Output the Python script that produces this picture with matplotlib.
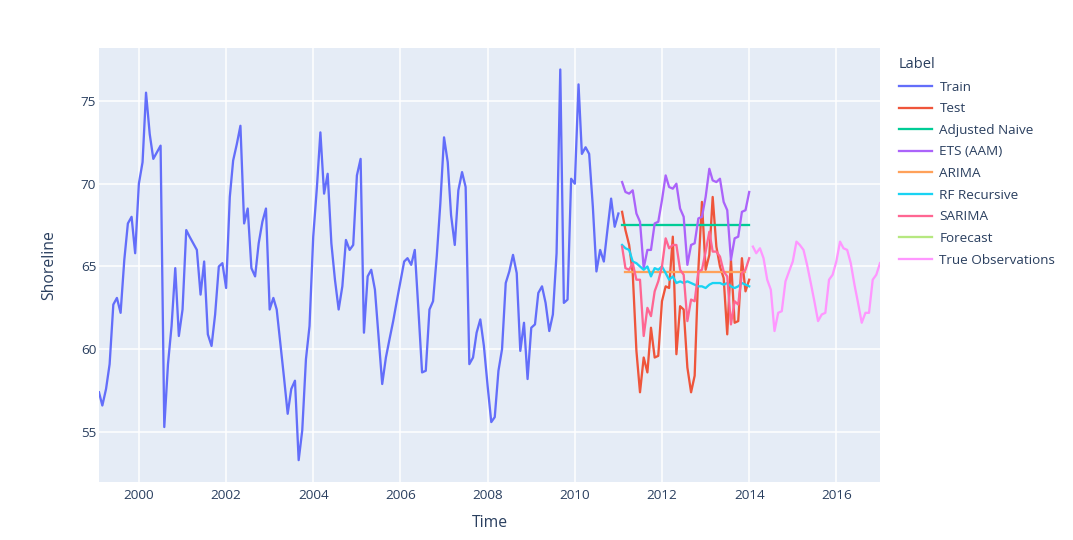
import numpy as np
import pandas as pd
import matplotlib
matplotlib.use("Agg")
import matplotlib.pyplot as plt
import matplotlib.dates as mdates

# monthly shoreline position, Feb 1999 - Jan 2011
train = [57.4, 56.6, 57.6, 59.1, 62.7, 63.1, 62.2, 65.4, 67.6, 68.0, 65.8,
         70.0, 71.3, 75.5, 73.0, 71.5, 71.9, 72.3, 55.3, 59.1, 61.4, 64.9, 60.8,
         62.4, 67.2, 66.8, 66.4, 66.0, 63.3, 65.3, 60.9, 60.2, 62.1, 65.0, 65.2,
         63.7, 69.2, 71.4, 72.4, 73.5, 67.6, 68.5, 64.9, 64.4, 66.4, 67.7, 68.5,
         62.4, 63.1, 62.4, 60.3, 58.3, 56.1, 57.6, 58.1, 53.3, 55.1, 59.4, 61.4,
         66.8, 69.8, 73.1, 69.4, 70.6, 66.4, 64.2, 62.4, 63.8, 66.6, 66.0, 66.3,
         70.5, 71.5, 61.0, 64.4, 64.8, 63.6, 60.8, 57.9, 59.5, 60.6, 61.7, 62.9,
         64.1, 65.3, 65.5, 65.1, 66.0, 62.3, 58.6, 58.7, 62.4, 62.9, 65.6, 68.8,
         72.8, 71.3, 68.1, 66.3, 69.6, 70.7, 69.8, 59.1, 59.5, 61.0, 61.8, 60.2,
         57.8, 55.6, 55.9, 58.7, 60.0, 64.0, 64.7, 65.7, 64.6, 59.9, 61.6, 58.2,
         61.3, 61.5, 63.4, 63.8, 62.8, 61.1, 62.1, 65.8, 76.9, 62.8, 63.0, 70.3,
         70.0, 76.0, 71.8, 72.2, 71.8, 68.6, 64.7, 66.0, 65.3, 67.2, 69.1, 67.4,
         68.2]

# Feb 2011 - Jan 2014
test = [68.3, 67.2, 66.3, 64.6, 59.9, 57.4, 59.5, 58.6, 61.3, 59.5, 59.6,
        62.9, 63.8, 63.7, 66.8, 59.7, 62.6, 62.4, 58.9, 57.4, 58.4, 64.8, 68.9,
        64.8, 65.7, 69.2, 66.2, 65.0, 64.3, 60.9, 65.4, 61.6, 61.7, 65.5, 63.5,
        64.2]
adjusted_naive = [67.52] * 36
ets_aam = [70.1, 69.5, 69.4, 69.6, 68.2, 67.7, 64.9, 66.0, 66.0, 67.6, 67.7,
           69.0, 70.5, 69.8, 69.7, 70.0, 68.5, 68.0, 65.1, 66.3, 66.4, 67.9, 68.0,
           69.2, 70.9, 70.2, 70.1, 70.3, 68.9, 68.4, 65.4, 66.7, 66.8, 68.3, 68.4,
           69.5]
arima = [64.64] * 34   # Mar 2011 - Dec 2013
rf_recursive = [66.3, 66.1, 66.0, 65.3, 65.2, 65.0, 64.8, 65.0, 64.4, 64.9, 64.8,
                65.0, 64.6, 64.2, 64.4, 64.0, 64.1, 64.0, 64.1, 64.0, 63.9, 63.8, 63.8,
                63.7, 63.9, 64.0, 64.0, 64.0, 63.9, 64.0, 63.8, 63.7, 63.8, 64.0, 63.9,
                63.8]
sarima = [66.2, 64.9, 64.8, 65.2, 64.2, 64.2, 60.8, 62.5, 62.0, 63.5, 64.1,
          65.0, 66.7, 66.1, 66.3, 66.3, 64.8, 64.5, 61.7, 63.0, 62.9, 64.7, 64.8,
          65.9, 67.1, 65.9, 65.9, 65.6, 64.7, 64.4, 61.5, 62.9, 62.7, 64.6, 64.8,
          65.5]
forecast = []
# Feb 2014 - Jan 2017
true_obs = [66.2, 65.8, 66.1, 65.5, 64.2, 63.6, 61.1, 62.2, 62.3, 64.1, 64.7,
            65.3, 66.5, 66.3, 66.0, 65.1, 64.0, 62.9, 61.7, 62.1, 62.2, 64.2, 64.5,
            65.3, 66.5, 66.1, 66.0, 65.2, 63.9, 62.8, 61.6, 62.2, 62.2, 64.2, 64.5,
            65.2]

train_dates = pd.date_range("1999-02-01", periods=len(train), freq="MS")
test_dates = pd.date_range("2011-02-01", periods=len(test), freq="MS")
arima_dates = pd.date_range("2011-03-01", periods=len(arima), freq="MS")
obs_dates = pd.date_range("2014-02-01", periods=len(true_obs), freq="MS")

plt.rcParams['font.family'] = ['Open Sans', 'DejaVu Sans']
txt = '#2a3f5f'
lw = 1.65

fig = plt.figure(figsize=(10.73, 5.40), dpi=100)
ax = fig.add_axes([99 / 1073, 58 / 540, 781 / 1073, 433.7 / 540])
ax.set_facecolor('#E5ECF6')

ax.plot(train_dates, train, color='#636EFA', lw=lw, label='Train')
ax.plot(test_dates, test, color='#EF553B', lw=lw, label='Test')
ax.plot(test_dates, adjusted_naive, color='#00CC96', lw=lw, label='Adjusted Naive')
ax.plot(test_dates, ets_aam, color='#AB63FA', lw=lw, label='ETS (AAM)')
ax.plot(arima_dates, arima, color='#FFA15A', lw=lw, label='ARIMA')
ax.plot(test_dates, rf_recursive, color='#19D3F3', lw=lw, label='RF Recursive')
ax.plot(test_dates, sarima, color='#FF6692', lw=lw, label='SARIMA')
ax.plot(forecast, forecast, color='#B6E880', lw=lw, label='Forecast')
ax.plot(obs_dates, true_obs, color='#FF97FF', lw=lw, label='True Observations')

ax.set_xlim(pd.Timestamp("1999-02-01"), pd.Timestamp("2017-01-01"))
ax.set_ylim(51.98, 78.18)
ax.xaxis.set_major_locator(mdates.YearLocator(2))
ax.xaxis.set_major_formatter(mdates.DateFormatter('%Y'))
ax.set_yticks([55, 60, 65, 70, 75])
ax.grid(True, color='white', lw=1.1)
ax.set_axisbelow(True)
for s in ax.spines.values():
    s.set_visible(False)
ax.tick_params(axis='both', length=0, labelsize=9.7, labelcolor=txt)
ax.tick_params(axis='x', pad=5)
ax.tick_params(axis='y', pad=2)

ax.set_xlabel('Time', fontsize=11.3, color=txt, va='center')
ax.xaxis.set_label_coords(0.5, -41 / 433.7)
ax.set_ylabel('Shoreline', fontsize=11.3, color=txt, va='center')
ax.yaxis.set_label_coords(-50 / 781, 0.5)

leg = ax.legend(title='Label', loc='upper left', bbox_to_anchor=(899 / 1073, 1 - 57 / 540),
                bbox_transform=fig.transFigure, frameon=False, fontsize=9.7,
                title_fontsize=10.5, alignment='left', borderpad=0, borderaxespad=0,
                handlelength=2.45, handletextpad=0.55, labelspacing=0.64)
for t in leg.get_texts():
    t.set_color(txt)
leg.get_title().set_color(txt)

fig.savefig('out.png', dpi=100)
